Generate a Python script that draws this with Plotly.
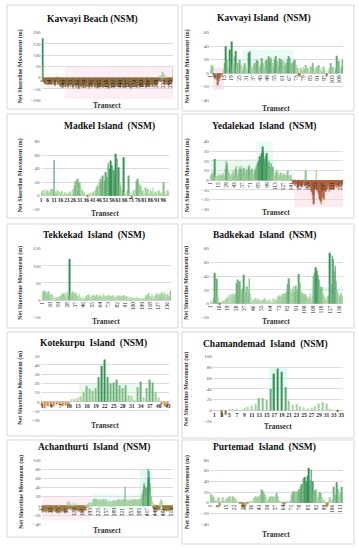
import plotly.graph_objects as go

# ---------------- data ----------------
kavvayi_beach = [
    -18, 175, 48, -12, -20, -25, -18, -30, -22, -15, -28, -35, -20, -10, -25, -30, -18, -22, -32, -15,
    -25, -20, -12, -30, -38, -22, -18, -10, -5, -20, -28, -32, -25, -35, -40, -30, -22, -28, -45, -38,
    -30, -25, -35, -42, -28, -20, -32, -38, -45, -30, -25, -40, -35, -28, -22, -30, -42, -48, -35, -25,
    -30, -38, -45, -40, -32, -28, -35, -50, -42, -30, -25, -38, -44, -36, -30, -40, -46, -35, -28, -32,
    -40, -45, -38, -30, -35, -42, -48, -40, -33, -27, -35, -43, -38, -30, -25, -32, -40, -45, -36, -28,
    -34, -42, -47, -38, -30, -36, -44, -40, -32, -26, -33, -41, -46, -37, -29, -35, -43, -39, -31, -27,
    -36, -44, -48, -40, -33, -28, -37, -45, -41, -34, -30, -38, -46, -42, -35, -29, -36, -43, -39, -32,
    -28, -35, -42, -47, -38, -31, -26, -34, -41, -45, -37, -30, -36, -44, -40, -33, -27, -35, -42, -38,
    -31, -37, -45, -49, -40, -34, -29, -36, -43, -38, -32, -28, -35, -41, -46, -39, -33, -30, -37, -44,
    -40, -34, -28, -35, -42, -38, -31, -26, -33, -40, -45, -37, -30, -25, -32, -38, -42, -35, -28, -22,
    -30, -36, -40, -33, -26, -20, -28, -35, -38, -30, -22, -18, -25, -12, 8, -15, -20, 12, -18, -10,
    25, -22, 15, -28, -30, -20, 10, -25, -32, -28, -20, -35, -30, -25, -18, -28, -22, -15, -20, 45,
]
kavvayi_beach_ticks = [1, 14, 27, 40, 53, 66, 79, 92, 105, 118, 131, 144, 157, 170, 183, 196, 209, 222, 235]

kavvayi_island = [
    5, 12, 10, -5, -8, -10, -18, -12, -8, -5,
    -3, 5, 15, 40, 20, 8, 35, 18, 47, 12,
    25, 33, 10, 15, 8, 20, 12, 5, 10, 15,
    8, 3, 30, 32, 10, 8, 12, 15, 10, 20,
    18, 8, 12, 22, 15, 10, 18, 20, 12, 25,
    18, 22, 15, 10, 20, 25, 18, 12, 22, 15,
    20, 10, 18, 12, 15, 20, 25, 22, 15, 10,
    18, 20, 12, 8, -3, -5, 8, 5, 10, 6,
    12, 5, 8, 3, 10, 7, 15, 8, 5, 10,
    6, 12, 4, 8, 3, 10, 5, 0, -5, 3,
    8, 15, 5, 10, 3, 8, 26, 12, 18, 6, 10, 20,
]
kavvayi_island_ticks = [1, 7, 13, 19, 25, 31, 37, 43, 49, 55, 61, 67, 73, 79, 85, 91, 97, 103, 109]

madkel = [
    5, 8, 3, 10, 6, 8, 5, 9, 7, 10,
    53, 6, 4, 8, 5, 3, 7, 2, 5, 0,
    4, 3, 6, 2, 8, 10, 15, 22, 25, 18,
    20, 12, 8, 5, 3, 0, -2, 3, 5, 2,
    4, 6, 8, 12, 15, 20, 25, 18, 30, 22,
    35, 28, 48, 40, 52, 45, 38, 30, 62, 55,
    42, 20, 15, 8, 57, 5, 3, 8, 30, 5,
    -5, 3, 8, 10, 22, 25, 18, 15, 5, 8,
    3, 12, 6, 10, 3, 8, 5, 12, 4, 6,
    2, 8, 5, 3, 6, 20, 6, 3, 8, 5,
]
madkel_ticks = [1, 6, 11, 16, 21, 26, 31, 36, 41, 46, 51, 56, 61, 66, 71, 76, 81, 86, 91, 96]

yedalekad = [
    3, 5, 2, 6, 4, 8, 5, 10, 22, 6, 3, 5, 2, 4, 6, 3, 7, 5, 2, 4,
    6, 3, 5, 8, 4, 2, 6, 12, 20, 15, 18, 10, 6, 8, 4, 5, 3, 6, 8, 5,
    10, 6, 4, 8, 12, 15, 6, 3, 5, 8, 14, 10, 6, 12, 15, 8, 5, 10, 13, 6,
    4, 8, 12, 10, 6, 3, 8, 14, 16, 10, 5, 8, 12, 6, 3, 5, 8, 10, 6, 12,
    15, 10, 18, 12, 20, 15, 25, 18, 22, 28, 20, 35, 30, 22, 18, 25, 20, 15, 28, 20,
    18, 12, 20, 15, 10, 18, 12, 8, 14, 10, 6, 4, 8, 5, 3, 10, 6, 4, 8, 5,
    3, 6, 8, 4, 2, 5, 8, 6, 3, 5, 7, 4, 2, 6, 10, 5, 3, 4, 2, 6,
    3, 1, -2, -4, -3, -5, -2, -6, -4, -3, -5, -8, -4, -2, -6, -3, -5, -4, -7, -3,
    -5, -2, -4, -6, -3, 10, -5, -8, -4, -6, -3, -5, -7, -10, -6, -12, -8, -15, -20, -25,
    -15, -8, -6, 10, -10, -12, -8, -14, -18, -20, -15, -22, -25, -18, -12, -16, -20, -10, -8, -12,
    -6, -10, -8, -5, -7, -12, -9, -6, -4, -8, -10, -6, -5, -9, -7, -4, -6, -8, -5, -3,
    -6, -8, -4, -5, -7, -3, -6, -4, -5, -2,
]
yedalekad_ticks = [1, 15, 29, 43, 57, 71, 85, 99, 113, 127, 141, 155, 169, 183, 197, 211, 225]

tekkekad = [
    15, 22, 28, 18, 25, 12, 20, 26, 15, 10, 18, 8, 5, 10, 6, 3, 8, 5, 10, 7,
    12, 15, 20, 18, 10, 22, 15, 25, 18, 12, 120, 20, 15, 25, 18, 10, 22, 15, 8, 12,
    18, 10, 6, 4, 2, 5, 3, 8, 12, 15, 10, 18, 12, 8, 15, 10, 14, 6, 12, 16,
    10, 8, 15, 12, 6, 10, 18, 14, 8, 12, 10, 6, 15, 8, 12, 10, 14, 8, 10, 6,
    12, 15, 8, 10, 14, 6, 12, 9, 15, 10, 7, 12, 8, 5, 10, 6, 4, 8, 3, 6,
    2, 5, 8, 3, 6, 2, 4, 1, 3, 5, 2, 4, 10, 15, 8, 20, 12, 5, 10, 18,
    12, 8, 15, 10, 20, 14, 8, 18, 12, 22, 10, 15, 25, 18, 10, 20, 15, 12, 8, 28,
]
tekkekad_ticks = [1, 10, 19, 28, 37, 46, 55, 64, 73, 82, 91, 100, 109, 118, 127, 136]

badkekad = [
    5, 2, 0, 3, 8, 45, 20, 36, 12, 3, -2, 0, 2, 4, 3, 5, 2, 8, 10, 12,
    9, 14, 12, 15, 10, 13, 8, 15, 30, 35, 25, 33, 20, 15, 22, 42, 18, 15, 25, 12,
    20, 37, 15, 8, 5, 3, 6, 4, 8, 5, 3, 7, 4, 2, 5, 3, 6, 8, 4, 3,
    5, 2, 4, 7, 3, 5, 8, 4, 6, 3, 5, 10, 7, 12, 8, 10, 14, 12, 15, 10,
    18, 28, 37, 30, 22, 15, 20, 25, 12, 18, 26, 20, 15, 43, 30, 18, 12, 15, 10, 14,
    12, 10, 8, 5, 10, 15, 8, 12, 40, 45, 38, 53, 48, 42, 35, 25, 22, 24, 15, 10,
    8, 5, 3, 10, 12, 74, 27, 28, 70, 65, 47, 55, 33, 20, 15, 5, 10, 15, 12, 8,
]
badkekad_ticks = [1, 10, 19, 28, 37, 46, 55, 64, 73, 82, 91, 100, 109, 118, 127, 136]

kotekurpu = [
    -5, -7, -5, -5, -5, -3, -3, -5, -4, -5,
    3, 3, 4, 6, 11, 17, 14, 12, 15, 27,
    39, 46, 27, 20, 21, 24, 18, 15, 18, 7,
    6, 2, 16, 22, 5, 15, 24, 21, 11, 5,
    -3, -5, -5,
]
kotekurpu_ticks = [1, 4, 7, 10, 13, 16, 19, 22, 25, 28, 31, 34, 37, 40, 43]

chamandemad = [
    0, 0, -12, -8, 3, 3, 2, 1, 5, 7,
    9, 12, 23, 23, 19, 40, 69, 78, 72, 43,
    18, 10, 12, 8, 6, 4, 5, 8, 13, 15,
    13, 2, 0, -3, 0,
]
chamandemad_ticks = [1, 3, 5, 7, 9, 11, 13, 15, 17, 19, 21, 23, 25, 27, 29, 31, 33, 35]

achanthurti = [
    -8, -12, -10, -15, -6, -9, -11, -14, -7, -5, -10, -13, -8, -12, -6, -9, -15, -11, -7, -10,
    -13, -8, -5, -2, 3, -4, -6, -10, -12, -8, -14, -9, -6, -11, -7, -13, -10, -5, -8, -12,
    -9, -15, -11, -6, -10, -13, -7, -4, -2, 2, -3, -8, -12, -9, -14, -10, -6, -11, -8, -13,
    -7, -12, -10, -5, -9, -14, -11, -8, -6, -12, -3, 2, -4, -8, -13, -10, -15, -7, -11, -9,
    -12, -6, -10, -14, -8, -11, -5, -9, -13, -7, -10, -12, -6, -15, -9, -11, -8, -4, -10, -13,
    -7, 5, -3, 8, -6, -2, 10, -4, -8, 3, -5, -9, -3, 6, -2, -7, -4, 2, -6, -10,
    -5, 4, -3, -8, 2, -6, -4, 7, -2, -9, -5, 3, -7, -4, -10, -6, -3, 5, -8, -11,
    -6, -9, -4, -12, -7, -10, -5, -8, -13, -6, -11, -9, -4, -7, -12, -8, -10, -5, -14, -9,
    -7, -11, -6, -10, -13, -8, -5, -9, -12, -7, -10, -4, -8, -6, -11, -3, 2, -5, -2, 3,
    4, 2, -3, 5, 3, 6, 2, -2, 4, 8, 3, 5, 2, 6, 4, 3, 7, 5, 2, 4,
    6, 8, 12, 5, 15, 10, 7, 13, 9, 16, 11, 6, 14, 8, 12, 5, 10, 15, 7, 11,
    9, 13, 6, 10, 4, 8, 12, 5, 9, 3, 7, 11, 6, 14, 8, 4, 10, 6, 3, 8,
    5, 9, 12, 6, 10, 15, 8, 4, 11, 7, 13, 5, 9, 16, 10, 6, 12, 8, 4, 7,
    10, 5, 3, 8, 12, 6, 9, 4, 7, 11, 5, 8, 3, 6, 10, 4, 7, 2, 5, 8,
    6, 3, 9, 5, 12, 7, 4, 8, 10, 6, 3, 7, 11, 5, 8, 4, 9, 13, 6, 10,
    7, 12, 5, 9, 14, 8, 11, 6, 10, 4, 8, 13, 7, 10, 5, 12, 9, 6, 11, 8,
    14, 10, 6, 12, 8, 15, 9, 5, 11, 7, 13, 42, 10, 6, 12, 8, 14, 5, 9, 11,
    7, 12, 5, 9, 13, 6, 10, 4, 8, 11, 14, 7, 10, 5, 12, 8, 15, 9, 6, 11,
    8, 13, 10, 6, 12, 9, 5, 14, 11, 7, 10, 13, 8, 15, 6, 12, 9, 11, 7, 10,
    12, 8, 15, 10, 6, 13, 9, 11, 14, 7, 10, 16, 12, 8, 14, 10, 18, 22, 15, 25,
    30, 20, 35, 28, 45, 38, 50, 42, 30, 25, 35, 20, 15, 28, 22, 40, 30, 25, 18, 35,
    45, 60, 80, 75, 55, 40, 62, 48, 30, 38, 25, 20, 15, 22, 18, 10, 12, 8, 5, 3,
    -3, -5, 2, -8, -4, -6, -10, -3, -7, 4, -5, -9, -2, -6, -4, -8, -12, -5, -3, -7,
    -6, -9, -4, -10, -7, -3, -8, -5, 6, 10, 4, 12, 8, 15, 5, 10, 3, 8, -2, -5,
    -8, -4, -10, -6, -12, -7, -3, -9, -5, -11, -8, -6, -10, -4, -12, -7, -9, -5, -8, -11,
    -6, -10, -4, -8, -12, -5, -9, -7, -11, -6, -8, -10, -4, -9, -7, -5, -10, -8, -6, -9,
]
achanthurti_ticks = [1, 33, 65, 97, 129, 161, 193, 225, 257, 289, 321, 353, 385, 417, 449, 481, 513]

purtemad = [
    18, 15, 12, 10, 5, 3, 8, 10, -5, 0,
    3, 10, 6, 3, 8, 10, 5, 12, 8, 12,
    10, 5, 8, 2, 0, -2, 0, -3, -8, -10,
    -12, -6, -2, 0, 2, 0, 3, 8, 10, 12,
    8, 10, 12, 15, 25, 22, 18, 15, 10, 5,
    8, 10, 12, 8, 12, 10, 15, 18, 12, 5,
    3, 0, -2, -4, -3, 0, 2, 1, 3, 5,
    15, 20, 22, 20, 22, 20, 25, 22, 30, 35,
    45, 48, 35, 40, 50, 65, 42, 62, 40, 15,
    22, 25, 10, 15, 20, 18, 10, 5, 5, 2,
    -8, -5, 3, 10, 5, 8, 30, 10, 15, 38,
    25, 15, 20, 30, 18,
]
purtemad_ticks = [1, 8, 15, 22, 29, 36, 43, 50, 57, 64, 71, 78, 85, 92, 99, 106, 113]

titles = ["Kavvayi Beach (NSM)", "Kavvayi Island  (NSM)", "Madkel Island  (NSM)", "Yedalekad  Island  (NSM)",
          "Tekkekad  Island  (NSM)", "Badkekad  Island  (NSM)", "Kotekurpu  Island  (NSM)",
          "Chamandemad  Island  (NSM)", "Achanthurti  Island  (NSM)", "Purtemad  Island  (NSM)"]

# ---------------- layout geometry (pixels) ----------------
W, H = 359, 550
SERIF = "Liberation Serif"

panels = [
    dict(vals=kavvayi_beach, ticks=kavvayi_beach_ticks, yr=(-100, 200), dt=50,
         box=(4, 177, 3, 108), plot=(39, 172, 31, 99), ty=18, xty=104, ytx=18, tx=91,
         ang=-90, w=0.75, neg="#8B6B3D",
         rects=[(0.5, 43, -50, 20, "rgba(255,170,200,0.12)"), (43, 240.5, -95, 50, "rgba(255,150,190,0.16)")]),
    dict(vals=kavvayi_island, ticks=kavvayi_island_ticks, yr=(-40, 60), dt=20,
         box=(181, 355, 3, 110), plot=(209, 344, 31, 99), ty=17, xty=107, ytx=186, tx=264,
         ang=-90, w=0.7, neg="#A0704A",
         rects=[(3.5, 12.5, -25, 8, "rgba(255,150,190,0.25)"), (28, 71, 0, 35, "rgba(150,235,220,0.22)")]),
    dict(vals=madkel, ticks=madkel_ticks, yr=(-20, 80), dt=20,
         box=(4, 177, 113, 218), plot=(38, 168, 141, 209), ty=126, xty=213, ytx=18, tx=108,
         ang=0, w=0.75, neg="#A0785A", rects=[]),
    dict(vals=yedalekad, ticks=yedalekad_ticks, yr=(-30, 40), dt=10,
         box=(181, 355, 113, 218), plot=(209, 344, 141, 209), ty=126, xty=212, ytx=186, tx=264,
         ang=-90, w=0.75, neg="#B0603C",
         rects=[(2, 110, 0, 22, "rgba(170,235,190,0.25)"), (80, 110, 0, 40, "rgba(170,240,200,0.25)"),
                (147, 230.5, -28, 0, "rgba(255,150,180,0.2)")]),
    dict(vals=tekkekad, ticks=tekkekad_ticks, yr=(-50, 150), dt=50,
         box=(4, 177, 224, 329), plot=(39, 170, 249, 318), ty=236, xty=322, ytx=18, tx=92,
         ang=-90, w=0.75, neg="#8B6B3D", rects=[(3, 130, 0, 10, "rgba(160,235,225,0.18)")]),
    dict(vals=badkekad, ticks=badkekad_ticks, yr=(-20, 80), dt=20,
         box=(181, 355, 224, 329), plot=(209, 344, 249, 318), ty=236, xty=322, ytx=186, tx=264,
         ang=-90, w=0.75, neg="#8B6B3D", rects=[(105, 140.5, 15, 24, "rgba(150,235,220,0.25)")]),
    dict(vals=kotekurpu, ticks=kotekurpu_ticks, yr=(-20, 50), dt=10,
         box=(4, 177, 333, 438), plot=(38, 168, 357, 422), ty=345, xty=427, ytx=18, tx=92,
         ang=0, w=0.4, neg="#C8893A", rects=[(13.5, 32.5, 0, 20, "rgba(170,235,190,0.25)")]),
    dict(vals=chamandemad, ticks=chamandemad_ticks, yr=(-20, 100), dt=20,
         box=(181, 355, 333, 440), plot=(212, 344, 358, 423), ty=346, xty=428, ytx=186, tx=265,
         ang=0, w=0.35, neg="#8B6B3D", rects=[(15.5, 20.5, 28, 80, "rgba(150,240,225,0.25)")]),
    dict(vals=achanthurti, ticks=achanthurti_ticks, yr=(-40, 100), dt=20,
         box=(4, 177, 442, 540), plot=(39, 172, 462, 527), ty=450, xty=533, ytx=18, tx=92,
         ang=-90, w=0.8, neg="#9C7C45",
         rects=[(3, 193, -32, 21, "rgba(255,160,190,0.18)"), (193, 409, -7, 25, "rgba(150,235,220,0.2)"),
                (390, 436, -3, 78, "rgba(120,235,210,0.25)")]),
    dict(vals=purtemad, ticks=purtemad_ticks, yr=(-40, 80), dt=20,
         box=(181, 355, 442, 547), plot=(209, 344, 462, 527), ty=450, xty=537, ytx=186, tx=264,
         ang=-90, w=0.7, neg="#B08A50", rects=[]),
]


def fx(px):
    return px / W


def fy(py):
    return 1 - py / H


def bar_colors(vals, neg):
    vmax = max(max(vals), 1)
    light = (190, 222, 176)
    dark = (52, 145, 84)
    out = []
    for v in vals:
        if v < 0:
            out.append(neg)
        else:
            t = min(1.0, (v / vmax) * 1.3)
            c = [round(light[k] + (dark[k] - light[k]) * t) for k in range(3)]
            out.append(f"rgb({c[0]},{c[1]},{c[2]})")
    return out


fig = go.Figure()
layout = dict(width=W, height=H, autosize=False, margin=dict(l=0, r=0, t=0, b=0),
              paper_bgcolor="white", plot_bgcolor="rgba(0,0,0,0)", showlegend=False,
              font=dict(family=SERIF))
shapes = []
annotations = []

for i, p in enumerate(panels, start=1):
    sx = "" if i == 1 else str(i)
    vals = p["vals"]
    n = len(vals)
    x0, x1, ytop, ybot = p["plot"]
    ymin, ymax = p["yr"]
    zero_px = ytop + (ymax - 0) / (ymax - ymin) * (ybot - ytop)

    fig.add_trace(go.Bar(x=list(range(1, n + 1)), y=vals, width=p["w"],
                         marker=dict(color=bar_colors(vals, p["neg"]), line=dict(width=0)),
                         xaxis="x" + sx, yaxis="y" + sx, hoverinfo="skip"))

    if p["ang"] == 0:
        ttext = ["<b>" + str(t) + "</b>" for t in p["ticks"]]
        tfont = dict(family=SERIF, size=5.5, color="#262626")
    else:
        ttext = [str(t) for t in p["ticks"]]
        tfont = dict(family=SERIF, size=5.5, color="#1f1f1f")

    layout["xaxis" + sx] = dict(domain=[fx(x0), fx(x1)], anchor="free", position=fy(zero_px),
                                range=[0.5, n + 0.5], tickmode="array", tickvals=p["ticks"],
                                ticktext=ttext, tickangle=p["ang"], tickfont=tfont,
                                showgrid=False, zeroline=False, showline=False, ticks="")
    layout["yaxis" + sx] = dict(domain=[fy(ybot), fy(ytop)], anchor="x" + sx, range=[ymin, ymax],
                                dtick=p["dt"], tick0=0, showgrid=True, gridcolor="#DCDCDC", gridwidth=0.6,
                                zeroline=True, zerolinecolor="#D0D0D0", zerolinewidth=0.8,
                                showline=False, ticks="",
                                tickfont=dict(family=SERIF, size=5, color="#595959"))

    bx0, bx1, by0, by1 = p["box"]
    shapes.append(dict(type="rect", xref="paper", yref="paper", x0=fx(bx0), x1=fx(bx1),
                       y0=fy(by1), y1=fy(by0), line=dict(color="#D6D6D6", width=1),
                       fillcolor="rgba(0,0,0,0)", layer="below"))
    for (rx0, rx1, ry0, ry1, col) in p["rects"]:
        shapes.append(dict(type="rect", xref="x" + sx, yref="y" + sx, x0=rx0, x1=rx1, y0=ry0, y1=ry1,
                           line=dict(width=0), fillcolor=col, layer="below"))

    annotations.append(dict(text="<b>" + titles[i - 1] + "</b>", xref="paper", yref="paper",
                            x=fx(p["tx"]), y=fy(p["ty"]), xanchor="center", yanchor="middle",
                            showarrow=False, font=dict(family=SERIF, size=9.5, color="#111111")))
    annotations.append(dict(text="<b>Net Shoreline Movement (m)</b>", xref="paper", yref="paper",
                            x=fx(p["ytx"]), y=fy((ytop + ybot) / 2), xanchor="center", yanchor="middle",
                            textangle=-90, showarrow=False,
                            font=dict(family=SERIF, size=6, color="#333333")))
    annotations.append(dict(text="<b>Transect</b>", xref="paper", yref="paper",
                            x=fx((x0 + x1) / 2), y=fy(p["xty"]), xanchor="center", yanchor="middle",
                            showarrow=False, font=dict(family=SERIF, size=7.5, color="#333333")))

layout["shapes"] = shapes
layout["annotations"] = annotations
fig.update_layout(**layout)
fig.write_html("out.html", config={"displayModeBar": False})

# remove the browser's default page margin so the figure sits at (0, 0)
with open("out.html", "r", encoding="utf-8") as f:
    html = f.read()
html = html.replace("<head>", "<head><style>html,body{margin:0;padding:0;overflow:hidden;}</style>", 1)
with open("out.html", "w", encoding="utf-8") as f:
    f.write(html)
